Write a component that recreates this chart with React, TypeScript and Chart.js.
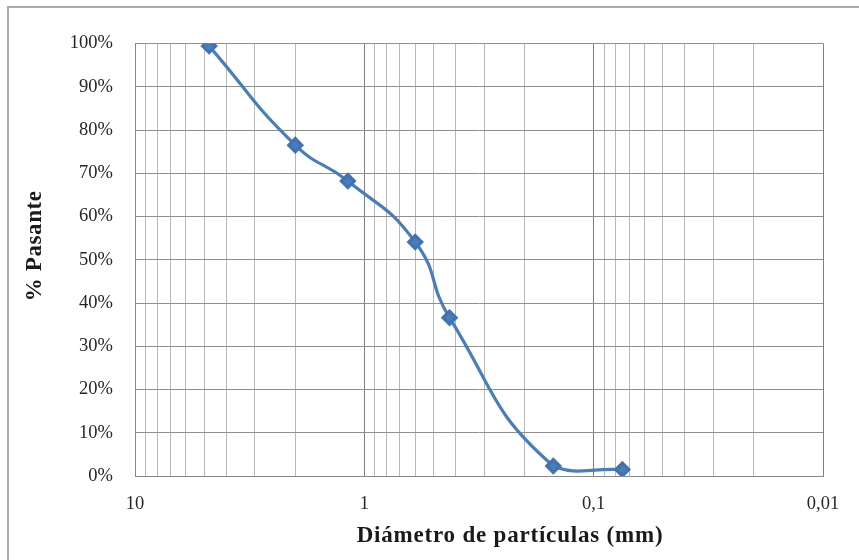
import React, { useEffect, useRef } from "react";
import { Chart, registerables } from "chart.js";

Chart.register(...registerables);

// Data
const diameters = [4.75, 2.0, 1.18, 0.6, 0.425, 0.15, 0.075];
const passing = [99.4, 76.5, 68.2, 54.1, 36.6, 2.3, 1.5];

// Axis ticks
const decadeStarts = [0.01, 0.1, 1];
const significands = [1, 2, 3, 4, 5, 6, 7, 8, 9];
const xMajorLabels: Record<string, string> = { "10": "10", "1": "1", "0.1": "0,1", "0.01": "0,01" };
const yTicks = [0, 10, 20, 30, 40, 50, 60, 70, 80, 90, 100];

const X_TITLE = "Diámetro de partículas (mm)";
const Y_TITLE = "% Pasante";

const xTickValues: number[] = [];
decadeStarts.forEach((d) =>
  significands.forEach((s) => xTickValues.push(parseFloat((d * s).toPrecision(6))))
);
xTickValues.push(10);

const isMajor = (v: number) => xMajorLabels[String(parseFloat(v.toPrecision(6)))] !== undefined;

const FONT = "'Liberation Serif', 'DejaVu Serif', serif";

const titlePlugin = {
  id: "axisTitles",
  afterDraw(chart: any) {
    const { ctx, chartArea } = chart;
    ctx.save();
    ctx.fillStyle = "#1a1a1a";
    ctx.textAlign = "center";
    ctx.textBaseline = "middle";
    ctx.font = `bold 23px ${FONT}`;
    try {
      ctx.letterSpacing = "0.8px";
    } catch (e) {}
    const cx = (chartArea.left + chartArea.right) / 2 + 31;
    ctx.fillText(X_TITLE, cx, chartArea.bottom + 60);
    ctx.translate(35, (chartArea.top + chartArea.bottom) / 2 - 14);
    ctx.rotate(-Math.PI / 2);
    ctx.font = `bold 23px ${FONT}`;
    try {
      ctx.letterSpacing = "0.6px";
    } catch (e) {}
    ctx.fillText(Y_TITLE, 0, 0);
    ctx.restore();
  },
};

export default function App() {
  const ref = useRef<HTMLCanvasElement | null>(null);
  useEffect(() => {
    if (!ref.current) return;
    const chart = new Chart(ref.current, {
      type: "line",
      data: {
        datasets: [
          {
            data: diameters.map((d, i) => ({ x: d, y: passing[i] })),
            borderColor: "#4a7ebb",
            backgroundColor: "#4a7ebb",
            borderWidth: 3.2,
            pointStyle: "rectRot",
            pointRadius: 6.5,
            pointBorderColor: "#3f73b3",
            pointBackgroundColor: "#4a7ebb",
            tension: 0.5,
            fill: false,
          },
        ],
      },
      options: {
        responsive: false,
        animation: false,
        layout: { padding: { top: 43.5, right: 36, left: 0, bottom: 0 } },
        plugins: { legend: { display: false }, tooltip: { enabled: false } },
        scales: {
          x: {
            type: "logarithmic",
            reverse: true,
            min: 0.01,
            max: 10,
            afterBuildTicks: (scale: any) => {
              scale.ticks = xTickValues.map((v) => ({ value: v, major: isMajor(v) }));
            },
            afterFit: (scale: any) => {
              scale.height = 84;
            },
            border: { display: true, color: "#8a8a8a", width: 1 },
            grid: {
              drawTicks: false,
              color: (c: any) => (c.tick && isMajor(c.tick.value) ? "#7f7f7f" : "#b8b8b8"),
              lineWidth: 1,
            },
            ticks: {
              autoSkip: false,
              maxRotation: 0,
              padding: 17,
              color: "#262626",
              font: { family: FONT, size: 18.5 },
              callback: (v: any) => {
                const k = String(parseFloat(Number(v).toPrecision(6)));
                return xMajorLabels[k] ?? "";
              },
            },
          },
          y: {
            type: "linear",
            min: 0,
            max: 100,
            afterBuildTicks: (scale: any) => {
              scale.ticks = yTicks.map((v) => ({ value: v }));
            },
            afterFit: (scale: any) => {
              scale.width = 135;
            },
            border: { display: true, color: "#8a8a8a", width: 1 },
            grid: { drawTicks: false, color: "#8e8e8e", lineWidth: 1 },
            ticks: {
              padding: 22,
              color: "#262626",
              font: { family: FONT, size: 18.5 },
              callback: (v: any) => `${v}%`,
            },
          },
        },
      },
      plugins: [titlePlugin],
    } as any);
    return () => chart.destroy();
  }, []);

  return (
    <div
      style={{
        position: "absolute",
        left: 0,
        top: 0,
        width: 859,
        height: 560,
        overflow: "hidden",
        background: "#fff",
      }}
    >
      <div
        style={{
          position: "absolute",
          left: 7,
          top: 6,
          width: 900,
          height: 600,
          borderTop: "2px solid #ababab",
          borderLeft: "2px solid #ababab",
        }}
      />
      <canvas
        ref={ref}
        width={859}
        height={560}
        style={{ position: "absolute", left: 0, top: 0, width: 859, height: 560 }}
      />
    </div>
  );
}
